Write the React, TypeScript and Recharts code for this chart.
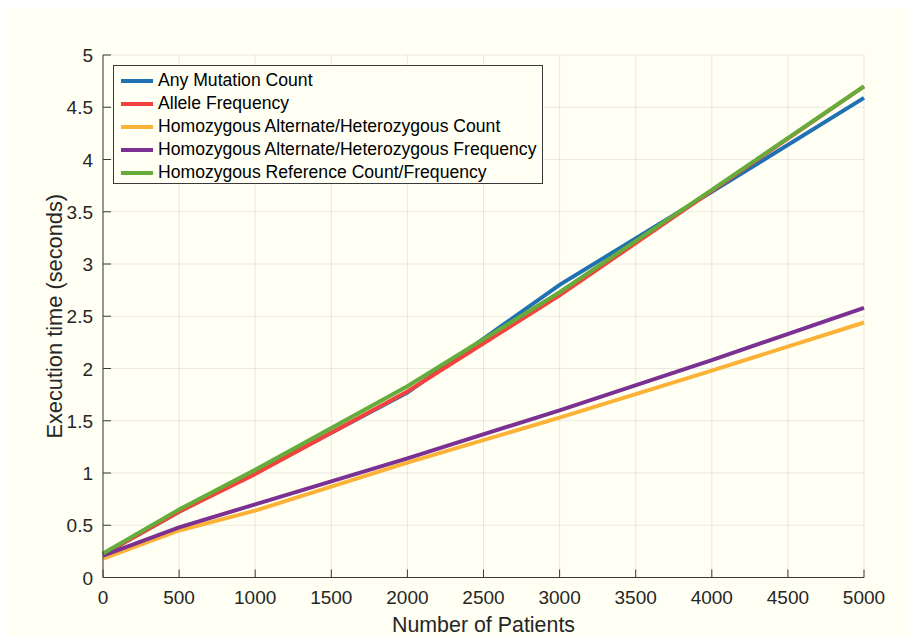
import React from 'react';
import { LineChart, Line, XAxis, YAxis, CartesianGrid, Legend, Label } from 'recharts';

const patients = [0, 500, 1000, 2000, 3000, 4000, 5000];
const anyMutationCount = [0.22, 0.63, 1.0, 1.77, 2.8, 3.69, 4.59];
const alleleFrequency = [0.22, 0.63, 0.99, 1.78, 2.7, 3.7, 4.7];
const homAltHetCount = [0.18, 0.45, 0.64, 1.1, 1.53, 1.98, 2.44];
const homAltHetFrequency = [0.21, 0.48, 0.7, 1.14, 1.6, 2.08, 2.58];
const homRefCountFrequency = [0.23, 0.65, 1.03, 1.83, 2.73, 3.71, 4.7];

const xTicks = [0, 500, 1000, 1500, 2000, 2500, 3000, 3500, 4000, 4500, 5000];
const yTicks = [0, 0.5, 1, 1.5, 2, 2.5, 3, 3.5, 4, 4.5, 5];

const seriesNames = [
  'Any Mutation Count',
  'Allele Frequency',
  'Homozygous Alternate/Heterozygous Count',
  'Homozygous Alternate/Heterozygous Frequency',
  'Homozygous Reference Count/Frequency',
];
const seriesKeys = ['amc', 'af', 'hahc', 'hahf', 'hrcf'];
const seriesValues = [anyMutationCount, alleleFrequency, homAltHetCount, homAltHetFrequency, homRefCountFrequency];
const seriesColors = ['#2070b4', '#f4433e', '#fbb237', '#7a3192', '#66ac3a'];

const data = patients.map((p, i) => {
  const row: Record<string, number> = { patients: p };
  seriesKeys.forEach((k, j) => {
    row[k] = seriesValues[j][i];
  });
  return row;
});

const FONT = '"Liberation Sans", Arial, Helvetica, sans-serif';
const TEXT = '#262626';
const AXIS = '#3a3a3a';
const BG = '#fffff3';
const TICK_LEN = 8;

const BottomTick = (props: any) => {
  const { x, y, payload } = props;
  return (
    <g>
      <line x1={x} x2={x} y1={y} y2={y - TICK_LEN} stroke={AXIS} strokeWidth={1} />
      <text x={x} y={y + 26} textAnchor="middle" fontSize={19} fontFamily={FONT} fill={TEXT}>
        {payload.value}
      </text>
    </g>
  );
};

const LeftTick = (props: any) => {
  const { x, y, payload } = props;
  return (
    <g>
      <line x1={x} x2={x + TICK_LEN} y1={y} y2={y} stroke={AXIS} strokeWidth={1} />
      <text x={x - 10} y={y + 7} textAnchor="end" fontSize={19} fontFamily={FONT} fill={TEXT}>
        {payload.value}
      </text>
    </g>
  );
};

const TopTick = (props: any) => {
  const { x, y } = props;
  return <line x1={x} x2={x} y1={y} y2={y + TICK_LEN} stroke={AXIS} strokeWidth={1} />;
};

const RightTick = (props: any) => {
  const { x, y } = props;
  return <line x1={x} x2={x - TICK_LEN} y1={y} y2={y} stroke={AXIS} strokeWidth={1} />;
};

const LegendBox = () => (
  <div
    style={{
      boxSizing: 'border-box',
      width: 430,
      height: 119,
      border: `1px solid ${AXIS}`,
      background: BG,
      paddingTop: 3,
      fontFamily: FONT,
      fontSize: 17.6,
      color: '#000',
    }}
  >
    {seriesNames.map((n, i) => (
      <div key={n} style={{ display: 'flex', alignItems: 'center', height: 23, lineHeight: '23px' }}>
        <div style={{ marginLeft: 7, width: 32, height: 4, background: seriesColors[i] }} />
        <span style={{ marginLeft: 5, whiteSpace: 'nowrap' }}>{n}</span>
      </div>
    ))}
  </div>
);

export default function App() {
  return (
    <div style={{ width: 901, height: 628, background: BG }}>
      <LineChart
        width={901}
        height={628}
        data={data}
        margin={{ top: 47, right: 45, bottom: 18.5, left: 35 }}
      >
        <CartesianGrid
          xAxisId="b"
          yAxisId="l"
          stroke="#262626"
          strokeOpacity={0.1}
          horizontalValues={yTicks}
          verticalValues={xTicks}
        />
        <XAxis
          xAxisId="b"
          dataKey="patients"
          type="number"
          domain={[0, 5000]}
          ticks={xTicks}
          interval={0}
          height={40}
          tickSize={0}
          tickMargin={0}
          tickLine={false}
          axisLine={{ stroke: AXIS, strokeWidth: 1 }}
          tick={<BottomTick />}
        >
          <Label
            content={(p: any) => {
              const vb = p.viewBox || {};
              return (
                <text
                  x={vb.x + vb.width / 2}
                  y={vb.y + 54}
                  textAnchor="middle"
                  fontSize={21.4}
                  fontFamily={FONT}
                  fill={TEXT}
                >
                  Number of Patients
                </text>
              );
            }}
          />
        </XAxis>
        <XAxis
          xAxisId="t"
          orientation="top"
          type="number"
          dataKey="patients"
          domain={[0, 5000]}
          ticks={xTicks}
          interval={0}
          height={0}
          tickSize={0}
          tickMargin={0}
          tickLine={false}
          axisLine={{ stroke: AXIS, strokeWidth: 1 }}
          tick={<TopTick />}
        />
        <YAxis
          yAxisId="l"
          type="number"
          domain={[0, 5]}
          ticks={yTicks}
          interval={0}
          width={60}
          tickSize={0}
          tickMargin={0}
          tickLine={false}
          axisLine={{ stroke: AXIS, strokeWidth: 1 }}
          tick={<LeftTick />}
        >
          <Label
            content={(p: any) => {
              const vb = p.viewBox || {};
              const cx = vb.x + 11;
              const cy = vb.y + vb.height / 2;
              return (
                <text
                  x={cx}
                  y={cy}
                  transform={`rotate(-90, ${cx}, ${cy})`}
                  textAnchor="middle"
                  dominantBaseline="central"
                  fontSize={21.8}
                  fontFamily={FONT}
                  fill={TEXT}
                >
                  Execution time (seconds)
                </text>
              );
            }}
          />
        </YAxis>
        <YAxis
          yAxisId="r"
          orientation="right"
          type="number"
          domain={[0, 5]}
          ticks={yTicks}
          interval={0}
          width={0}
          tickSize={0}
          tickMargin={0}
          tickLine={false}
          axisLine={{ stroke: AXIS, strokeWidth: 1 }}
          tick={<RightTick />}
        />
        {seriesKeys.map((k, i) => (
          <Line
            key={k}
            xAxisId="b"
            yAxisId="l"
            dataKey={k}
            name={seriesNames[i]}
            type="linear"
            stroke={seriesColors[i]}
            strokeWidth={4}
            dot={false}
            activeDot={false}
            isAnimationActive={false}
          />
        ))}
        <Legend
          layout="vertical"
          align="center"
          verticalAlign="middle"
          wrapperStyle={{ left: 105, top: 57, width: 430, height: 119, right: 'auto', bottom: 'auto' }}
          content={() => <LegendBox />}
        />
      </LineChart>
    </div>
  );
}
